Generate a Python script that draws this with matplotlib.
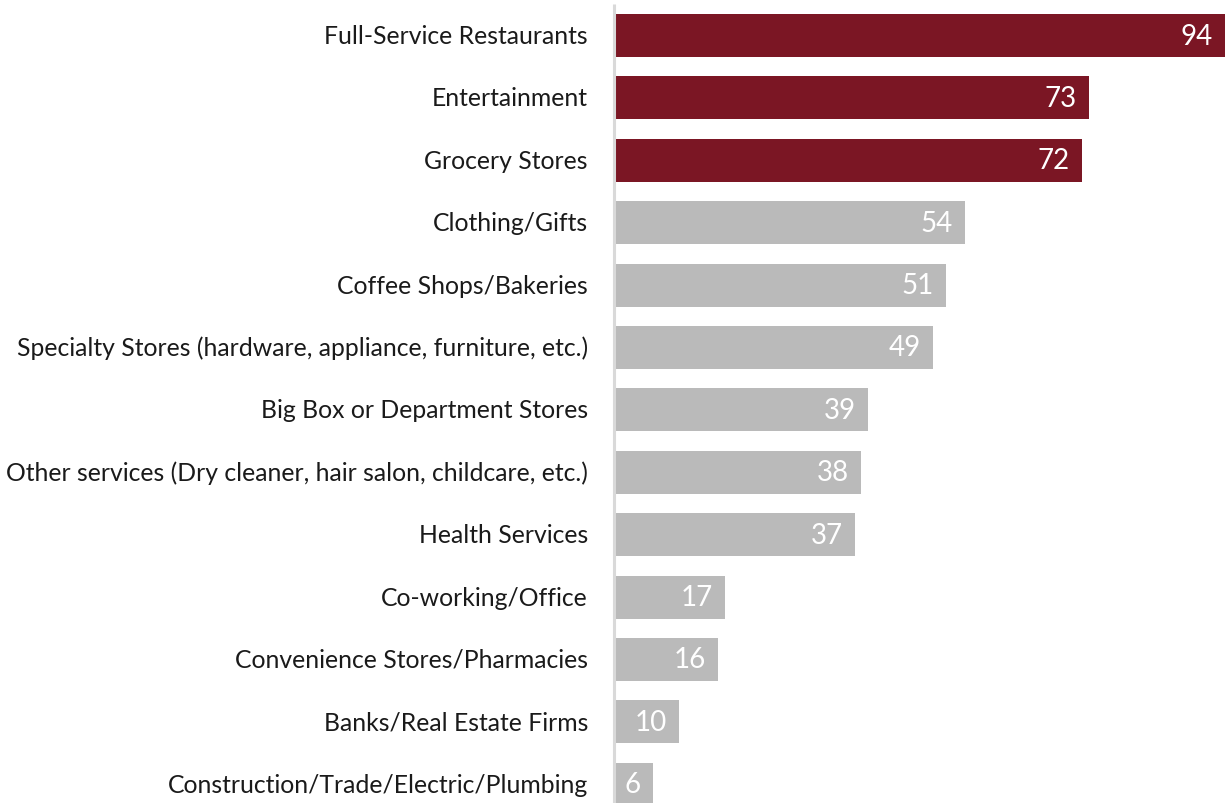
import matplotlib
matplotlib.use("Agg")
import matplotlib.pyplot as plt
from matplotlib.transforms import offset_copy

categories = [
    "Full-Service Restaurants",
    "Entertainment",
    "Grocery Stores",
    "Clothing/Gifts",
    "Coffee Shops/Bakeries",
    "Specialty Stores (hardware, appliance, furniture, etc.)",
    "Big Box or Department Stores",
    "Other services (Dry cleaner, hair salon, childcare, etc.)",
    "Health Services",
    "Co-working/Office",
    "Convenience Stores/Pharmacies",
    "Banks/Real Estate Firms",
    "Construction/Trade/Electric/Plumbing",
]
values = [94, 73, 72, 54, 51, 49, 39, 38, 37, 17, 16, 10, 6]
highlight_count = 3

maroon = "#7B1624"
grey = "#BABABA"
colors = [maroon if i < highlight_count else grey for i in range(len(values))]

W, H = 1225, 804
fig = plt.figure(figsize=(W / 100, H / 100), dpi=100)
ax = fig.add_axes([614 / W, 0, 1 - 614 / W, 1])

ypos = list(range(len(values)))
ax.barh(ypos, values, height=0.69, color=colors, zorder=2)

ax.set_xlim(0, 94)
ax.set_ylim(12.30, -0.585)
ax.axis("off")

# vertical baseline
ax.plot([0, 0], [-0.5, 12.4], color="#D9D9D9", lw=2.2, zorder=3, clip_on=False,
        solid_capstyle="butt")

font = "Lato"
for y, (cat, v) in enumerate(zip(categories, values)):
    ax.text(-26 / 6.5, y, cat, ha="right", va="center", fontsize=17.8,
            family=font, color="#1a1a1a")
    tr = offset_copy(ax.transData, fig=fig, x=-12, y=0, units="dots")
    ax.text(v, y, str(v), ha="right", va="center", fontsize=20, family=font,
            color="white", transform=tr, zorder=4)

fig.savefig("out.png", dpi=100)
